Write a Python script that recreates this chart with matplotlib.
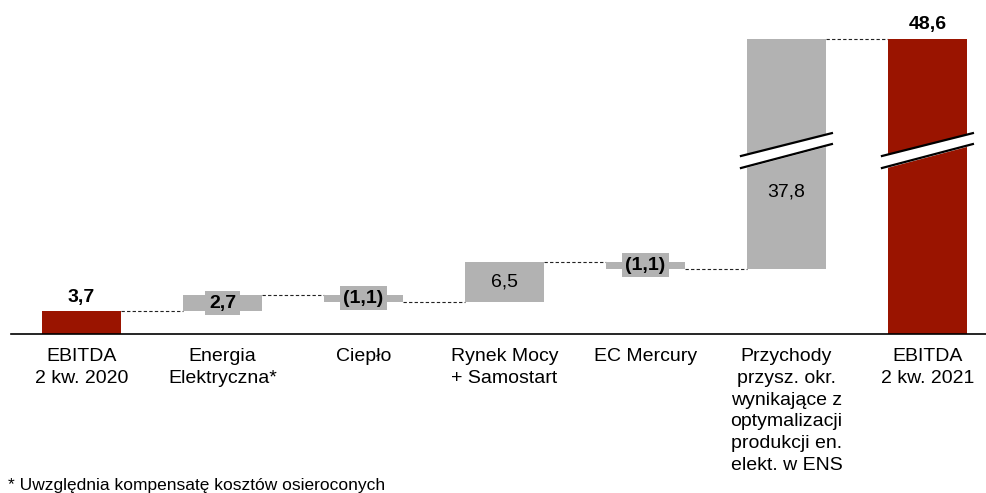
import numpy as np
import matplotlib.pyplot as plt

plt.rcParams['font.family'] = ['Liberation Sans', 'DejaVu Sans']

categories = ['EBITDA\n2 kw. 2020', 'Energia\nElektryczna*', 'Ciepło',
              'Rynek Mocy\n+ Samostart', 'EC Mercury',
              'Przychody\nprzysz. okr.\nwynikające z\noptymalizacji\nprodukcji en.\nelekt. w ENS',
              'EBITDA\n2 kw. 2021']
values = [3.7, 2.7, -1.1, 6.5, -1.1, 37.8, 48.6]
labels = ['3,7', '2,7', '(1,1)', '6,5', '(1,1)', '37,8', '48,6']
is_total = [True, False, False, False, False, False, True]

red = '#9a1400'
grey = '#b2b2b2'

fig = plt.figure(figsize=(9.87, 4.93), dpi=100)
ax = fig.add_axes([0, 0, 1, 1])
ax.set_xlim(-0.578, 6.422)
ax.set_ylim(-26.24, 54.98)
ax.axis('off')

# waterfall geometry
bottoms, tops = [], []
level = 0
for v, tot in zip(values, is_total):
    if tot:
        b, t = 0, v
        level = v
    else:
        b, t = min(level, level + v), max(level, level + v)
        level += v
    bottoms.append(b)
    tops.append(t)
bottoms = np.array(bottoms)
tops = np.array(tops)
x = np.arange(len(values))
w = 0.56

colors = [red if t else grey for t in is_total]
ax.bar(x, tops - bottoms, bottom=bottoms, width=w, color=colors, zorder=2)

# connectors
ends = [tops[0], tops[1], bottoms[2], tops[3], bottoms[4], tops[5]]
for i, yv in enumerate(ends):
    ax.plot([x[i] + w / 2, x[i + 1] - w / 2], [yv, yv], color='#222222',
            lw=0.8, ls=(0, (3, 2)), zorder=1)

# baseline
ax.axhline(0, xmin=11 / 987, xmax=1, color='black', lw=1.2, zorder=3)

# value labels
for i, (lab, v) in enumerate(zip(labels, values)):
    if is_total[i]:
        ax.annotate(lab, (x[i], tops[i]), xytext=(0, 7), textcoords='offset points',
                    ha='center', va='baseline', fontsize=14, fontweight='bold')
    elif i == 5:
        ax.text(x[i], 23.3, lab, ha='center', va='center', fontsize=14)
    elif i == 3:
        ax.text(x[i], (tops[i] + bottoms[i]) / 2, lab, ha='center', va='center', fontsize=14)
    else:
        ax.text(x[i], (tops[i] + bottoms[i]) / 2, lab, ha='center', va='center',
                fontsize=14, fontweight='bold', zorder=4,
                bbox=dict(boxstyle='square,pad=0.18', fc=grey, ec='none'))

# axis break marks
for i in [5, 6]:
    xs = np.array([x[i] - 0.323, x[i] + 0.322])
    lo = np.array([27.3, 31.25])
    hi = np.array([29.28, 33.05])
    ax.fill_between(xs, lo, hi, color='white', zorder=5)
    ax.plot(xs, lo, color='black', lw=1.6, zorder=6)
    ax.plot(xs, hi, color='black', lw=1.6, zorder=6)

# category labels
for i, c in enumerate(categories):
    ax.text(x[i], -2.35, c, ha='center', va='top', fontsize=14, linespacing=1.37)

fig.text(8 / 987, 1 - 478 / 493, '* Uwzględnia kompensatę kosztów osieroconych',
         ha='left', va='top', fontsize=12.5)

fig.savefig('out.png', dpi=100)
